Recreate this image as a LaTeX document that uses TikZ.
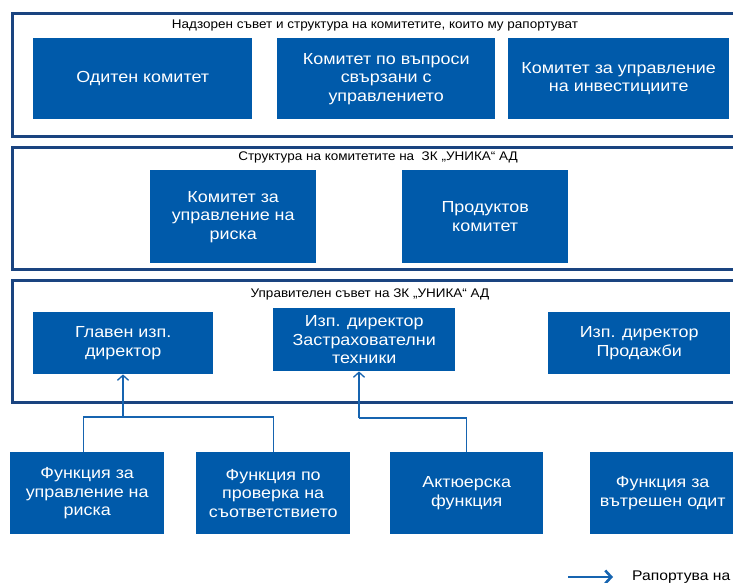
\documentclass[tikz,border=0pt]{standalone}
\usepackage{fontspec}
\setmainfont{Liberation Sans}
\newfontfamily\titlefamily{Liberation Sans}[FakeStretch=1.08]
\newfontfamily\unitfamily{Liberation Sans}[FakeStretch=1.12]
\usetikzlibrary{arrows.meta}
\definecolor{uniblue}{RGB}{0,90,170}
\definecolor{framenavy}{RGB}{26,68,128}
\definecolor{linkblue}{RGB}{22,100,176}
\newcommand{\boxfont}{\unitfamily\fontsize{16}{18.5}\selectfont}
\newcommand{\titlefont}{\titlefamily\fontsize{12.5}{14}\selectfont}
\tikzset{
    frame/.style={draw=framenavy, line width=3pt, anchor=north west, inner sep=0pt, minimum width=740},
    unit/.style={fill=uniblue, text=white, anchor=north west, inner sep=0pt, align=center, font=\boxfont},
    title/.style={font=\titlefont, inner sep=0pt},
    report/.style={draw=linkblue, line width=1.3pt},
    reportarrow/.style={report, -{Straight Barb[length=5pt, width=11pt]}},
    legendarrow/.style={draw=linkblue, line width=2.6pt, -{Straight Barb[length=6pt, width=13pt]}}
}

\begin{document}
\begin{tikzpicture}[x=1pt, y=-1pt]
    \useasboundingbox (0,0) rectangle (733,583);

    \node[frame, minimum height=123] (board) at (10.5,12) {};
    \node[title] (boardtitle) at (375,25) {Надзорен съвет и структура на комитетите, които му рапортуват};
    \node[unit, minimum width=219, minimum height=81] (audit) at (33,38) {Одитен комитет};
    \node[unit, minimum width=218, minimum height=81] (govern) at (277,38) {Комитет по въпроси\\свързани с\\управлението};
    \node[unit, minimum width=221, minimum height=81] (invest) at (508,38) {Комитет за управление\\на инвестициите};

    \node[frame, minimum height=122] (committees) at (10.5,145.5) {};
    \node[title] (committeestitle) at (378,157) {Структура на комитетите на \ ЗК „УНИКА“ АД};
    \node[unit, minimum width=166, minimum height=93] (riskcom) at (150,170) {Комитет за\\управление на\\риска};
    \node[unit, minimum width=166, minimum height=93] (product) at (402,170) {Продуктов\\комитет};

    \node[frame, minimum height=122] (management) at (10.5,279) {};
    \node[title] (managementtitle) at (370,294) {Управителен съвет на ЗК „УНИКА“ АД};
    \node[unit, minimum width=180, minimum height=62] (ceo) at (33,312) {Главен изп.\\директор};
    \node[unit, minimum width=182, minimum height=63] (cuo) at (273,308) {Изп. директор\\Застрахователни\\техники};
    \node[unit, minimum width=182, minimum height=62] (sales) at (548,312) {Изп. директор\\Продажби};

    \node[unit, minimum width=154, minimum height=82] (riskfn) at (10,452) {Функция за\\управление на\\риска};
    \node[unit, minimum width=154, minimum height=82] (compfn) at (196,452) {Функция по\\проверка на\\съответствието};
    \node[unit, minimum width=153, minimum height=82] (actfn) at (390,452) {Актюерска\\функция};
    \node[unit, minimum width=145, minimum height=82] (auditfn) at (590,452) {Функция за\\вътрешен одит};

    \coordinate (riskjoin) at (123,417);
    \coordinate (actjoin) at (359,418);
    \draw[report] ([xshift=-4pt]riskfn.north) |- (riskjoin) -| (compfn.north);
    \draw[reportarrow] (riskjoin) -- (ceo.south -| riskjoin);
    \draw[report] (actfn.north) |- (actjoin);
    \draw[reportarrow] (actjoin) -- (cuo.south -| actjoin);

    \node[anchor=west, inner sep=0pt, font=\unitfamily\fontsize{14}{16}\selectfont] (legend) at (632,577) {Рапортува на};
    \coordinate (legendtail) at (568,577);
    \draw[legendarrow] (legendtail) -- ([xshift=-19pt]legend.west);
\end{tikzpicture}
\end{document}
